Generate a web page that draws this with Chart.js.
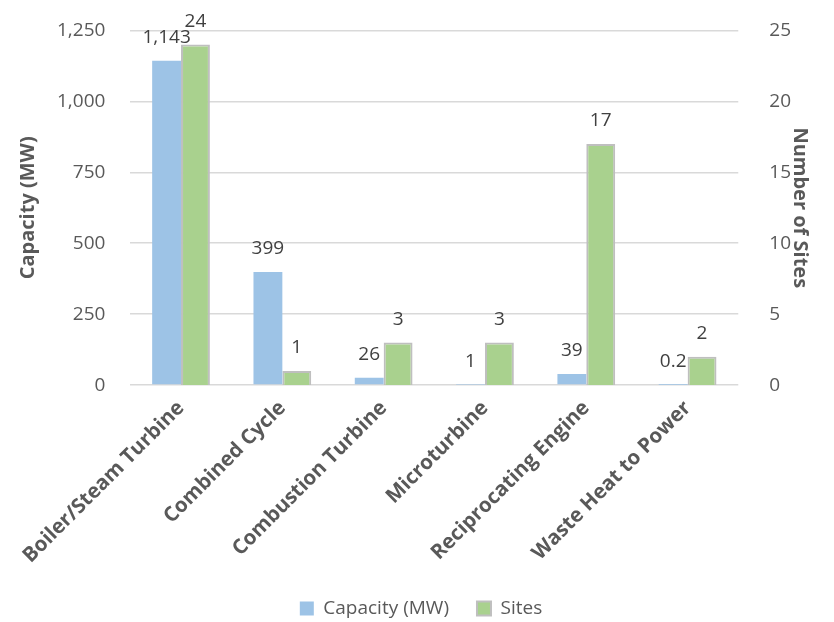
<!DOCTYPE html>
<html>
<head>
<meta charset="utf-8">
<script src="https://cdn.jsdelivr.net/npm/chart.js@4"></script>
<style>
  body { margin: 0; background: #fff; overflow: hidden; }
  #wrap { width: 834px; height: 628px; margin-top: -6px; }
</style>
</head>
<body>
<div id="wrap"><canvas id="chart"></canvas></div>
<script>
// chart data
var categories = ['Boiler/Steam Turbine', 'Combined Cycle', 'Combustion Turbine', 'Microturbine', 'Reciprocating Engine', 'Waste Heat to Power'];
var capacityMW = [1143, 399, 26, 1, 39, 0.2];
var sites = [24, 1, 3, 3, 17, 2];
var capacityTicks = [0, 250, 500, 750, 1000, 1250];
var sitesTicks = [0, 5, 10, 15, 20, 25];

var textGray = '#595959';
var fontName = '"Open Sans", sans-serif';

// draws value labels above each bar (like Excel "outside end")
var valueLabels = {
    id: 'valueLabels',
    afterDatasetsDraw: function(chart) {
        var ctx = chart.ctx;
        ctx.save();
        ctx.font = '19px ' + fontName;
        ctx.fillStyle = '#404040';
        ctx.textAlign = 'center';
        ctx.textBaseline = 'alphabetic';
        chart.data.datasets.forEach(function(ds, i) {
            chart.getDatasetMeta(i).data.forEach(function(bar, j) {
                var v = ds.data[j];
                var txt = v >= 1000 ? v.toLocaleString('en-US') : String(v);
                ctx.fillText(txt, bar.x, bar.y - 18);
            });
        });
        ctx.restore();
    }
};

var ctx = document.getElementById('chart').getContext('2d');
var myChart = new Chart(ctx, {
    type: 'bar',
    data: {
        labels: categories,
        datasets: [{
            label: 'Capacity (MW)',
            data: capacityMW,
            backgroundColor: '#9dc3e6',
            borderWidth: 0,
            yAxisID: 'y'
        }, {
            label: 'Sites',
            data: sites,
            backgroundColor: '#a9d18e',
            borderColor: '#bfbfbf',
            borderWidth: 2,
            yAxisID: 'y2'
        }]
    },
    options: {
        responsive: true,
        maintainAspectRatio: false,
        animation: false,
        layout: { padding: { top: 8, left: 8, right: 0, bottom: -6 } },
        datasets: { bar: { categoryPercentage: 0.57, barPercentage: 1 } },
        plugins: {
            legend: {
                position: 'bottom',
                labels: {
                    color: textGray,
                    font: { family: fontName, size: 19 },
                    boxWidth: 14,
                    boxHeight: 14,
                    padding: 28
                }
            },
            tooltip: { enabled: false }
        },
        scales: {
            x: {
                grid: { display: false },
                border: { display: false },
                ticks: {
                    color: textGray,
                    font: { family: fontName, size: 20.5, weight: 'bold' },
                    minRotation: 45,
                    maxRotation: 45
                }
            },
            y: {
                position: 'left',
                min: 0,
                max: capacityTicks[capacityTicks.length - 1],
                afterBuildTicks: function(axis) {
                    axis.ticks = capacityTicks.map(function(v) { return { value: v }; });
                },
                grid: { color: '#d9d9d9', lineWidth: 1.5, drawTicks: false },
                border: { display: false },
                ticks: {
                    color: textGray,
                    padding: 25,
                    font: { family: fontName, size: 19 },
                    callback: function(v) { return v.toLocaleString('en-US'); }
                },
                title: {
                    display: true,
                    text: 'Capacity (MW)',
                    color: textGray,
                    padding: { top: 8, bottom: -8 },
                    font: { family: fontName, size: 20, weight: 'bold' }
                }
            },
            y2: {
                position: 'right',
                min: 0,
                max: sitesTicks[sitesTicks.length - 1],
                afterBuildTicks: function(axis) {
                    axis.ticks = sitesTicks.map(function(v) { return { value: v }; });
                },
                grid: { display: false },
                border: { display: false },
                ticks: {
                    color: textGray,
                    padding: 23,
                    font: { family: fontName, size: 19 }
                },
                title: {
                    display: true,
                    text: 'Number of Sites',
                    color: textGray,
                    padding: { top: 22, bottom: -26 },
                    font: { family: fontName, size: 20, weight: 'bold' }
                }
            }
        }
    },
    plugins: [valueLabels]
});
</script>
</body>
</html>
